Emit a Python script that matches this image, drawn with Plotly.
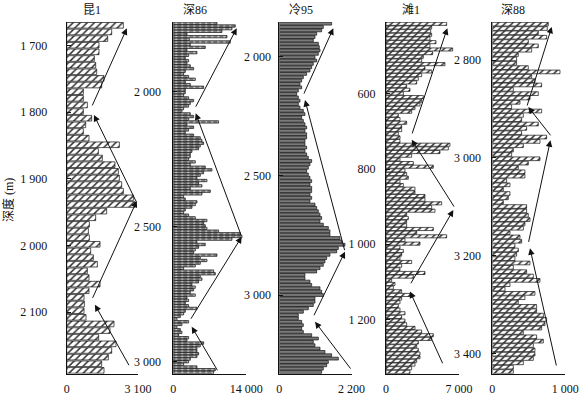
import numpy as np
import plotly.graph_objects as go

# ---------------- data ----------------
wells = ["昆1", "深86", "冷95", "滩1", "深88"]

kun1_values = [2463, 1956, 1782, 1405, 1405, 1202, 1260, 1304, 1622, 1521,
               724, 724, 898, 724, 1086, 826, 724, 970, 2289, 1376,
               1550, 2100, 2245, 2289, 2390, 2463, 2897, 2970, 1738, 1260,
               985, 942, 985, 1449, 1043, 1159, 1333, 898, 970, 1449,
               970, 753, 768, 753, 840, 2057, 1883, 1391, 2144, 1956,
               1811, 1521, 1622]

shen86_values = [8375, 11891, 11252, 9334, 2621, 10293, 3069, 10932, 3260, 6137,
                 2621, 4539, 2941, 2301, 2941, 2621, 3260, 3900, 2301, 1982,
                 2941, 4219, 2301, 3260, 5818, 2301, 2301, 1982, 2941, 3900,
                 3260, 2941, 1982, 1662, 3260, 3900, 2941, 8694, 2621, 3900,
                 2941, 2301, 3900, 5178, 5498, 5818, 5178, 4859, 3580, 3260,
                 3260, 2941, 4219, 3260, 6137, 7416, 5818, 5178, 4539, 6457,
                 4859, 5498, 3260, 7096, 5498, 1982, 2301,
                 4539, 4219, 3580, 2301, 1982, 2941, 4219, 6457, 5818, 6137,
                 6457, 8694, 12850, 13170, 11252, 4539, 6137, 4859, 4219, 3900,
                 8375, 5178, 6457, 5178, 4219, 1982, 7736, 8055, 5178, 5498,
                 4859, 3580, 4219, 3900, 3260, 4219, 2621, 2941, 2301, 2941,
                 4539, 2301, 1982, 1343, 703, 2941, 1662, 703, 1343, 1662,
                 1023, 2941, 2621, 5818, 5178, 4539, 4539, 4859, 4539, 3260,
                 2941, 1982, 4539, 8055, 7736]

leng95_values = [1595, 1341, 1290, 1138, 1087, 1036, 1189, 1219, 1240, 1189,
                 1087, 1138, 1036, 986, 935, 833, 732, 681, 630, 681,
                 579, 528, 579, 630, 579, 630, 732, 782, 681, 732,
                 782, 833, 782, 833, 833, 782, 782, 833, 782, 833,
                 884, 986, 935, 884, 833, 884, 935, 986, 935, 986,
                 986, 935, 986,
                 935, 1087, 1138, 1189, 1240, 1290, 1240, 1341, 1494, 1544,
                 1544, 1849, 1900, 2000, 1798, 1748, 1544, 1443, 1392, 1341,
                 1240, 1138, 782, 782, 935, 986, 1240, 1290, 1341, 1087,
                 1087, 1036, 884, 732, 579, 579, 681, 732, 681, 732,
                 986, 1189, 1036, 1087, 1240, 1392, 1595, 1798, 1494, 1443,
                 1341, 1290]

tan1_values = [5817, 4379, 4283, 4379, 4219, 4794, 4219, 6392, 4474, 3580,
               3420, 5657, 3739, 4379, 3420, 3100, 2940, 1982, 2301, 1662,
               3580, 3420, 3260, 2781, 2461, 1183, 1342, 1982, 1502, 1502,
               1183, 1342, 1342, 6136, 5977, 5178, 2461, 1342, 2621, 4538,
               1822, 1982, 2141, 1342, 1662, 2781,
               2781, 3739, 3739, 5337, 4379, 4698, 1982, 2141, 1982, 1982,
               4538, 2940, 5817, 1822, 3260, 1342, 1662, 1502, 1342, 2461,
               1502, 1342, 3739, 2621, 543, 863, 703, 1502, 2301, 1502,
               1342, 1183, 1342, 1822, 1502, 1822, 1982, 2781, 3420, 4538,
               4379, 3100, 2940, 3100, 3260, 3260, 2940, 2781, 2461, 2301]

shen88_values = [767, 753, 630, 744, 493, 630, 539, 356, 333, 333,
                 493, 927, 539, 584, 676, 288, 630, 516, 379, 265,
                 676, 425, 402, 630, 470, 402, 744, 653, 425, 288,
                 265, 653, 493, 356, 447, 447, 196, 242, 151,
                 242, 219, 151, 470, 470, 493, 516, 447, 425, 242,
                 379, 402, 310, 356, 333, 310, 516, 288, 470, 562,
                 653, 242, 174, 584, 447, 356, 607, 607, 699, 744,
                 721, 676, 425, 607, 699, 562, 584, 584, 562, 425,
                 288, 288]

series_values = [kun1_values, shen86_values, leng95_values, tan1_values, shen88_values]

x_max = [3100, 14000, 2200, 7000, 1000]
depth_ranges = [(1664.5, 2192.5), (1742, 3044), (1854.5, 3330), (408.5, 1344.7), (2722, 3441.7)]
depth_ticks = [[1700, 1800, 1900, 2000, 2100],
               [2000, 2500, 3000],
               [2000, 2500, 3000],
               [600, 800, 1000, 1200],
               [2800, 3000, 3200, 3400]]

# trend arrows: (tail value, tail depth, head value, head depth)
trend_arrows = [
    [(1084, 1792, 2614, 1674), (3048, 1936, 1184, 1804), (1097, 2081, 3048, 1933), (2744, 2182, 1227, 2089)],
    [(4162, 2061, 12160, 1765), (13119, 2537, 4296, 2080), (3203, 2846, 13119, 2537), (8631, 3037, 3529, 2870)],
    [(731, 2161, 1645, 1881), (2002, 2818, 783, 2182), (1036, 3091, 2002, 2818), (2206, 3315, 1088, 3112)],
    [(2464, 709, 5879, 425), (6617, 904, 2464, 722), (2302, 1108, 6454, 909), (5495, 1321, 2302, 1126)],
    [(471, 2896, 814, 2732), (814, 2957, 493, 2896), (493, 3175, 796, 2964), (882, 3428, 516, 3185)],
]

y_title = "深度 (m)"

# ---------------- layout / style ----------------
W, H = 581, 395
px_left = [66.7, 173.3, 279.3, 386.0, 492.3]
px_right = [138.0, 246.3, 351.5, 459.0, 565.3]
px_top, px_bottom = 22.0, 373.7
title_px = [92, 195, 301, 411, 513]
ylab_standoff = [16, 9, 5, 7, 8]

hatch = dict(shape="/", fgcolor="#333", bgcolor="white", size=5, solidity=0.3)
bar_styles = [
    dict(color="white", pattern=hatch, fill=0.85),
    dict(color="#888", pattern=dict(shape="|", fgcolor="#f2f2f2", bgcolor="#808080", size=6, solidity=0.2), fill=0.9),
    dict(color="#7a7a7a", pattern=None, fill=0.85),
    dict(color="white", pattern=hatch, fill=0.85),
    dict(color="white", pattern=hatch, fill=0.85),
]

FONT = "Liberation Serif, Noto Sans CJK SC, serif"
TXT = "#111111"


def fmt(v):
    return f"{v:,}".replace(",", " ")


fig = go.Figure()
annotations = []
ydom = [1 - px_bottom / H, 1 - px_top / H]

for i in range(5):
    vals = series_values[i]
    n = len(vals)
    top, bot = depth_ranges[i]
    pitch = (bot - top) / n
    depths = top + pitch * (np.arange(n) + 0.5)
    st = bar_styles[i]
    marker = dict(color=st["color"], line=dict(color="#111", width=0.7))
    if st["pattern"] is not None:
        marker["pattern"] = st["pattern"]
    sfx = "" if i == 0 else str(i + 1)
    fig.add_trace(go.Bar(
        x=vals, y=depths, orientation="h", width=pitch * st["fill"],
        marker=marker, xaxis="x" + sfx, yaxis="y" + sfx,
        showlegend=False, hoverinfo="skip",
    ))
    fig.layout["xaxis" + sfx] = dict(
        domain=[px_left[i] / W, px_right[i] / W], range=[0, x_max[i]],
        anchor="y" + sfx, showgrid=False, zeroline=False, automargin=False,
        showline=True, linecolor="#111", linewidth=1,
        ticks="inside", ticklen=5, tickcolor="#111",
        tickvals=[0, x_max[i]], ticktext=["0", fmt(x_max[i])],
        tickfont=dict(family=FONT, size=12, color=TXT),
        ticklabelstandoff=4, fixedrange=True,
    )
    fig.layout["yaxis" + sfx] = dict(
        domain=ydom, range=[bot, top], anchor="x" + sfx,
        showgrid=False, zeroline=False, automargin=False,
        showline=True, linecolor="#111", linewidth=1,
        ticks="inside", ticklen=4, tickcolor="#111",
        tickvals=depth_ticks[i], ticktext=[fmt(t) for t in depth_ticks[i]],
        tickfont=dict(family=FONT, size=12, color=TXT),
        ticklabelstandoff=ylab_standoff[i], fixedrange=True,
    )
    annotations.append(dict(
        text=wells[i], xref="paper", yref="paper",
        x=title_px[i] / W, y=1 - 10 / H, showarrow=False,
        font=dict(family=FONT, size=12, color=TXT),
        xanchor="center", yanchor="middle",
    ))
    for (tx, td, hx, hd) in trend_arrows[i]:
        annotations.append(dict(
            x=hx, y=hd, ax=tx, ay=td,
            xref="x" + sfx, yref="y" + sfx, axref="x" + sfx, ayref="y" + sfx,
            showarrow=True, text="", arrowhead=2, arrowsize=1.3,
            arrowwidth=1, arrowcolor="#111", standoff=0, startstandoff=0,
        ))

annotations.append(dict(
    text=y_title, xref="paper", yref="paper", x=8 / W, y=1 - 200 / H,
    showarrow=False, textangle=-90,
    font=dict(family=FONT, size=12, color=TXT),
    xanchor="center", yanchor="middle",
))

fig.update_layout(
    template="none",
    font=dict(family=FONT, color=TXT),
    width=W, height=H, autosize=False, margin=dict(l=0, r=0, t=0, b=0, pad=0, autoexpand=False),
    paper_bgcolor="white", plot_bgcolor="white",
    annotations=annotations, bargap=0,
)

fig.write_html(
    "out.html",
    config={"responsive": False, "displayModeBar": False, "staticPlot": True},
    post_script="document.body.style.margin='0';document.body.style.padding='0';"
                "document.body.style.overflow='hidden';"
                "document.documentElement.style.overflow='hidden';",
)
